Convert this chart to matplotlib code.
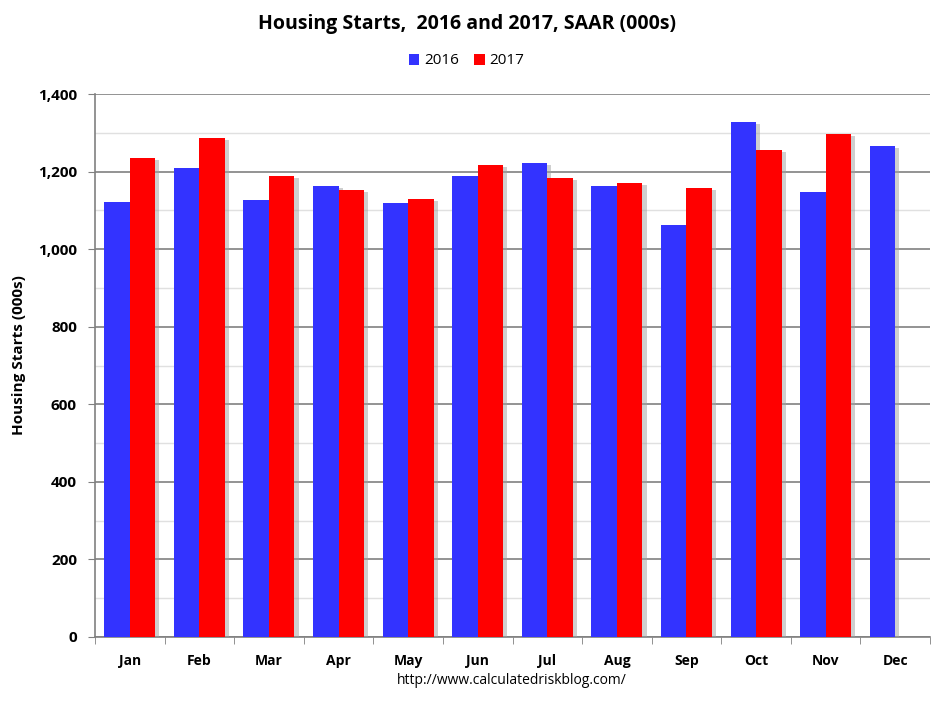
import numpy as np
import matplotlib
matplotlib.use("Agg")
import matplotlib.pyplot as plt
import matplotlib.patheffects as pe
from matplotlib.ticker import MultipleLocator, FuncFormatter

months = ['Jan', 'Feb', 'Mar', 'Apr', 'May', 'Jun', 'Jul', 'Aug', 'Sep', 'Oct', 'Nov', 'Dec']
starts_2016 = [1122, 1209, 1127, 1163, 1119, 1189, 1222, 1163, 1062, 1328, 1147, 1266]
starts_2017 = [1235, 1287, 1189, 1152, 1129, 1217, 1183, 1170, 1158, 1256, 1297]

plt.rcParams['font.family'] = ['Open Sans', 'DejaVu Sans']

fig = plt.figure(figsize=(9.33, 7.01), dpi=100)
ax = fig.add_axes([95/933, 1-637/701, 835/933, 543/701])

x = np.arange(len(months))
w = 0.366
b1 = ax.bar(x - w/2, starts_2016, w, color='#3333ff', label='2016', zorder=3)
b2 = ax.bar(x[:len(starts_2017)] + w/2, starts_2017, w, color='#ff0000', label='2017', zorder=3)

ax.set_xlim(-0.5, len(months) - 0.5)
ax.set_ylim(0, 1400)
ax.yaxis.set_major_locator(MultipleLocator(200))
ax.yaxis.set_minor_locator(MultipleLocator(100))
ax.yaxis.set_major_formatter(FuncFormatter(lambda v, p: f'{int(v):,}'))
ax.grid(axis='y', which='major', color='#808080', lw=1.2, zorder=0)
ax.grid(axis='y', which='minor', color='#e0e0e0', lw=1.0, zorder=0)

ax.set_xticks(x)
ax.set_xticklabels(months, fontsize=10, fontweight='bold')
ax.set_xticks(np.arange(len(months) + 1) - 0.5, minor=True)
ax.tick_params(axis='x', which='major', length=0, pad=12)
ax.tick_params(axis='x', which='minor', length=5, color='#808080', direction='out')
ax.tick_params(axis='y', which='major', length=5, color='#808080', labelsize=11, pad=8)
for lab in ax.get_yticklabels():
    lab.set_fontweight('bold')
ax.tick_params(axis='y', which='minor', length=0)

for s in ['top', 'right']:
    ax.spines[s].set_visible(False)
for s in ['left', 'bottom']:
    ax.spines[s].set_color('#808080')
    ax.spines[s].set_linewidth(1.2)

ax.set_ylabel('Housing Starts (000s)', fontsize=11, fontweight='bold')
ax.yaxis.set_label_coords(-0.083, 0.52)

fig.text(0.5, 1-24/701, 'Housing Starts,  2016 and 2017, SAAR (000s)', ha='center', va='center',
         fontsize=14, fontweight='bold')
fig.legend(loc='center', bbox_to_anchor=(0.5, 1-61/701), ncol=2, frameon=False, fontsize=11,
           handlelength=0.7, handleheight=0.7, handletextpad=0.3, columnspacing=1.0)
fig.text(512/933, 1-681/701, 'http://www.calculatedriskblog.com/', ha='center', va='center', fontsize=10)

# soft drop shadow on the bars only (legend made first so its keys stay flat)
shadow = [pe.SimplePatchShadow(offset=(3, -1.5), shadow_rgbFace='#a0a0a0', alpha=0.5), pe.Normal()]
for p in list(b1) + list(b2):
    p.set_path_effects(shadow)

fig.savefig('out.png', dpi=100)
